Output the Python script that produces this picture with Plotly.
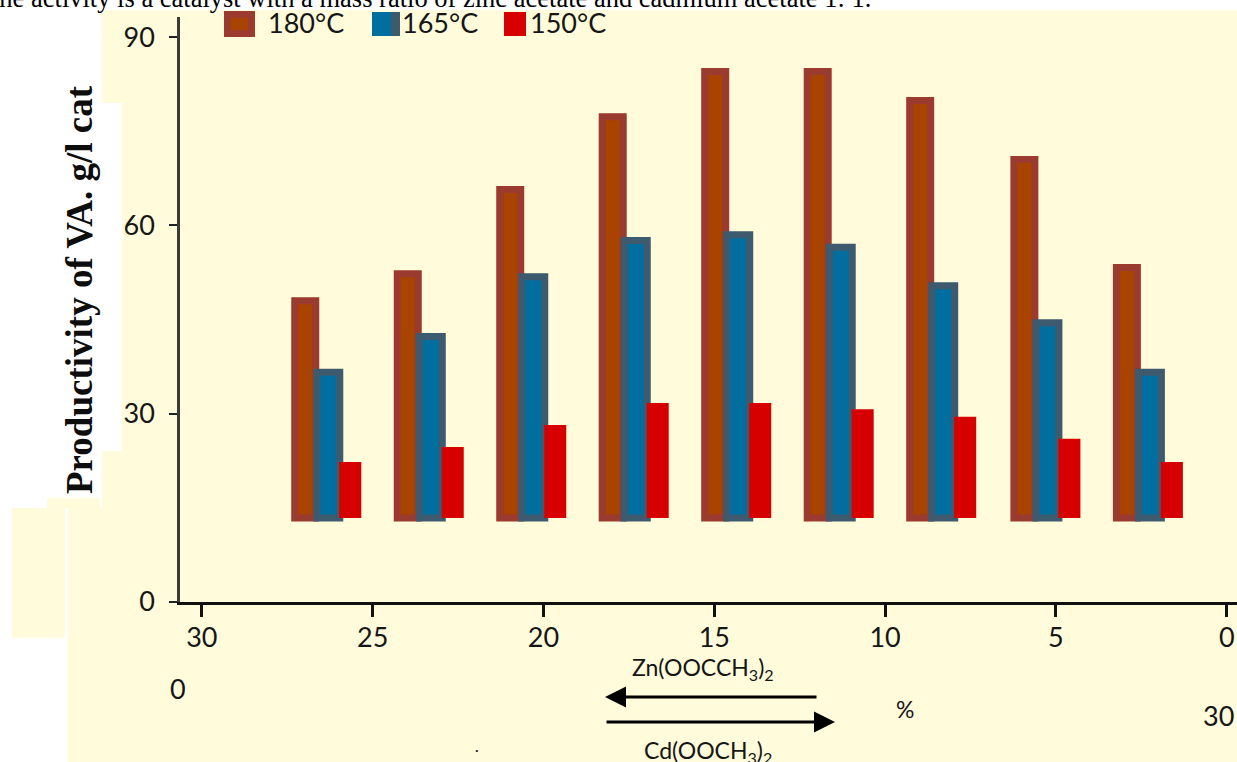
import plotly.graph_objects as go

# ---------------- data ----------------
# position of each bar group on the Zn(OOCCH3)2 % axis
X_POS = [26.3, 23.3, 20.3, 17.3, 14.3, 11.3, 8.3, 5.25, 2.25]
SERIES = ["180°C", "165°C", "150°C"]
BASE = 13.4  # bars start from this level in the original
TOP_180 = [48.0, 52.3, 65.7, 77.3, 84.5, 84.5, 79.9, 70.5, 53.3]
TOP_165 = [36.6, 42.3, 51.8, 57.6, 58.5, 56.5, 50.4, 44.5, 36.6]
TOP_150 = [22.3, 24.7, 28.2, 31.7, 31.7, 30.7, 29.5, 26.0, 22.3]
X_TICKS = [30, 25, 20, 15, 10, 5, 0]
Y_TICKS = [0, 30, 60, 90]

# ---------------- styles ----------------
W, H = 1237, 762
L, R, T, B = 180, 0, 17, 160
PW, PH = W - L - R, H - T - B
YELLOW = "#FFFBDB"
FILLS = ["#A84300", "#006F9F", "#D60000"]
LINES = ["#9B3A2E", "#3E5A6E", "#D60000"]
LINEW = [7, 7, 0]
OFFS = [0.366, -0.337, -0.966]
WIDS = [0.615, 0.673, 0.644]
TXT = "#161616"
SANS = "Lato"


def px(x):
    return (x - L) / PW


def py(y):
    return (H - B - y) / PH


fig = go.Figure()
for name, tops, fc, lc, lw, off, wd in zip(SERIES, [TOP_180, TOP_165, TOP_150],
                                           FILLS, LINES, LINEW, OFFS, WIDS):
    fig.add_trace(go.Bar(
        x=X_POS, y=[t - BASE for t in tops], base=BASE, name=name,
        offset=off, width=wd,
        marker=dict(color=fc, line=dict(color=lc, width=lw)),
        showlegend=False,
    ))

shapes = []
# light-yellow page regions of the scanned figure
for x0, y0, x1, y1 in [(102, 10, W, 103), (122, 103, W, 451), (102, 451, W, 508),
                       (68, 508, W, H), (47, 498, 100, 508), (12, 508, 65, 638)]:
    shapes.append(dict(type="rect", xref="paper", yref="paper", layer="below",
                       x0=px(x0), x1=px(x1), y0=py(y0), y1=py(y1),
                       fillcolor=YELLOW, line=dict(width=0)))

# manual legend swatches
sw = [(227.5, 14.5, 251.5, 33.5), (372, 12, 400, 36), (504, 12, 526, 36)]
for i, (x0, y0, x1, y1) in enumerate(sw):
    if i == 1:
        shapes.append(dict(type="rect", xref="paper", yref="paper",
                           x0=px(x0), x1=px(x1), y0=py(y0), y1=py(y1),
                           fillcolor=LINES[1], line=dict(width=0)))
        shapes.append(dict(type="rect", xref="paper", yref="paper",
                           x0=px(x0), x1=px(391), y0=py(y0), y1=py(y1),
                           fillcolor=FILLS[1], line=dict(width=0)))
    else:
        shapes.append(dict(type="rect", xref="paper", yref="paper",
                           x0=px(x0), x1=px(x1), y0=py(y0), y1=py(y1),
                           fillcolor=FILLS[i], line=dict(color=LINES[i], width=LINEW[i])))

ann = []
for name, x in zip(SERIES, [266, 400, 528]):
    ann.append(dict(text=name, x=px(x), y=py(23), xref="paper", yref="paper",
                    xanchor="left", yanchor="middle", showarrow=False,
                    font=dict(family=SANS, size=27, color=TXT)))

# cut-off caption line at the very top
ann.append(dict(text="the activity is a catalyst with a mass ratio of zinc acetate and cadmium acetate 1: 1.",
                x=px(-10), y=py(-1.5), xref="paper", yref="paper", xanchor="left", yanchor="middle",
                showarrow=False, font=dict(family="Liberation Serif", size=26.5, color="#000")))

# y-axis title
ann.append(dict(text="Productivity of VA. g/l cat", x=px(79), y=py(290), xref="paper", yref="paper",
                textangle=-90, showarrow=False, xanchor="center", yanchor="middle",
                font=dict(family="Liberation Serif", size=37, color="#0d0d0d", weight="bold")))

# lower labels and arrows
for text, x, y, size in [("Zn(OOCCH<sub>3</sub>)<sub>2</sub>", 703, 668, 23),
                         ("%", 905, 709, 23),
                         ("Cd(OOCH<sub>3</sub>)<sub>2</sub>", 708, 751, 23),
                         ("0", 178, 688, 27),
                         ("30", 1218, 715, 27),
                         ("·", 477, 749, 14)]:
    ann.append(dict(text=text, x=px(x), y=py(y), xref="paper", yref="paper",
                    xanchor="center", yanchor="middle", showarrow=False,
                    font=dict(family=SANS, size=size, color=TXT)))

for hx, hy, dx in [(605, 697, 213), (835, 722, -230)]:
    ann.append(dict(text="", x=px(hx), y=py(hy), xref="paper", yref="paper",
                    ax=dx, ay=0, axref="pixel", ayref="pixel", showarrow=True,
                    arrowhead=2, arrowsize=1.4, arrowwidth=3, arrowcolor="#000"))

fig.update_layout(
    width=W, height=H, autosize=False,
    margin=dict(l=L, r=R, t=T, b=B, pad=0),
    paper_bgcolor="white", plot_bgcolor=YELLOW,
    barmode="overlay", showlegend=False,
    shapes=shapes, annotations=ann,
    xaxis=dict(range=[30.64, -0.30], tickvals=X_TICKS, showgrid=False, zeroline=False,
               showline=True, linecolor="#111", linewidth=3,
               ticks="outside", ticklen=12, tickwidth=3, tickcolor="#111",
               tickfont=dict(family=SANS, size=27, color=TXT), ticklabelstandoff=-2),
    yaxis=dict(range=[0, 93.2], tickvals=Y_TICKS, showgrid=False, zeroline=False,
               showline=True, linecolor="#3a3a3a", linewidth=2.5,
               ticks="outside", ticklen=8, tickwidth=2, tickcolor="#222",
               tickfont=dict(family=SANS, size=27, color=TXT), ticklabelstandoff=9),
)

fig.write_html("out.html", config={"displayModeBar": False},
               post_script="document.body.style.margin='0px';")
